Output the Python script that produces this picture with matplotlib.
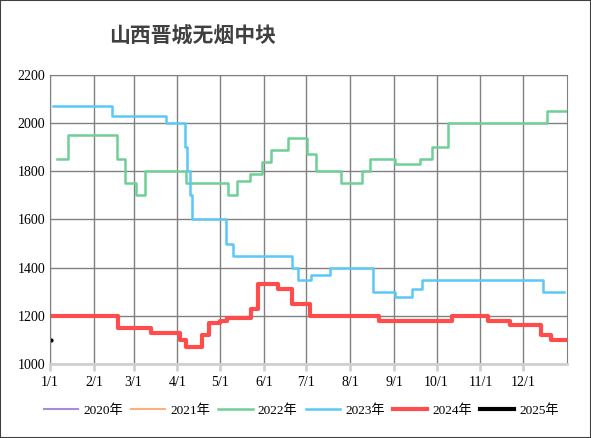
import matplotlib
matplotlib.use("Agg")
import matplotlib.pyplot as plt

title = "山西晋城无烟中块"
month_days = [0, 31, 59, 90, 120, 151, 181, 212, 243, 273, 304, 334]
month_labels = ["1/1", "2/1", "3/1", "4/1", "5/1", "6/1", "7/1", "8/1", "9/1", "10/1", "11/1", "12/1"]
yticks = [1000, 1200, 1400, 1600, 1800, 2000, 2200]

d2022 = [5, 12.5, 47, 53, 61, 67, 96, 126, 132, 141, 150, 156, 168, 181.5, 188, 205.5, 220, 226, 244, 261, 269.5, 281, 351, 365]
v2022 = [1850, 1950, 1850, 1750, 1700, 1800, 1750, 1700, 1760, 1790, 1840, 1890, 1940, 1870, 1800, 1750, 1800, 1850, 1830, 1850, 1900, 2000, 2050, 2050]

d2023 = [2, 43.5, 82, 93, 95, 97, 99, 100, 124, 129, 171, 175, 184, 198, 228, 244, 256, 263, 348, 363]
v2023 = [2070, 2030, 2000, 2000, 1900, 1800, 1700, 1600, 1500, 1450, 1400, 1350, 1370, 1400, 1300, 1280, 1310, 1350, 1300, 1300]

d2024 = [0, 48, 71, 92, 96, 107, 112, 120, 125, 142, 147, 149.5, 161, 171, 183.6, 232, 284, 309, 325, 347, 354, 365]
v2024 = [1200, 1150, 1130, 1100, 1070, 1120, 1170, 1180, 1190, 1230, 1330, 1330, 1310, 1250, 1200, 1180, 1200, 1180, 1160, 1120, 1100, 1100]

d2025 = [1]
v2025 = [1100]

plt.rcParams['font.family'] = ['Liberation Serif', 'Noto Sans CJK SC']
fig = plt.figure(figsize=(5.91, 4.38), dpi=100)
ax = fig.add_axes([0.0846, 0.169, 0.8745, 0.66])

ax.plot([], [], color="#a98bd6", lw=1.5, label="2020年")
ax.plot([], [], color="#ffb07a", lw=1.5, label="2021年")
ax.plot(d2022, v2022, drawstyle="steps-post", color="#6fcf97", lw=1.8, label="2022年")
ax.plot(d2023, v2023, drawstyle="steps-post", color="#5bc8f5", lw=1.8, label="2023年")
ax.plot(d2024, v2024, drawstyle="steps-post", color="#ff4d4d", lw=3, label="2024年")
ax.plot(d2025, v2025, "o", color="black", ms=2, label="2025年")

ax.set_xlim(0, 365)
ax.set_ylim(1000, 2200)
ax.set_xticks(month_days)
ax.set_xticklabels(month_labels, fontsize=10)
ax.set_yticks(yticks)
ax.set_yticklabels([str(y) for y in yticks], fontsize=10)
ax.grid(True, color="#808080", lw=1)
for s in ["top", "right", "left"]:
    ax.spines[s].set_color("#808080")
ax.spines["bottom"].set_color("#d0d0d0")
ax.spines["bottom"].set_linewidth(2)
ax.tick_params(axis="x", length=5, color="#d0d0d0", width=2)
ax.tick_params(axis="y", length=0)

h, l = ax.get_legend_handles_labels()
h[5] = plt.Line2D([], [], color="black", lw=3)
fig.legend(h, l, loc="center", bbox_to_anchor=(0.51, 0.063), ncol=6, frameon=False,
           handlelength=2.6, handletextpad=0.4, columnspacing=0.6,
           prop={'family': ['Liberation Serif', 'Noto Sans CJK SC'], 'size': 9.5})
fig.text(0.185, 0.918, title, fontsize=15, fontweight="bold", color="#404040",
         family=['Noto Sans CJK SC'], va="center")
fig.patches.append(plt.Rectangle((0, 0), 1, 1, transform=fig.transFigure, fill=False,
                                 edgecolor="#404040", lw=1.5))
fig.savefig("out.png", dpi=100)
